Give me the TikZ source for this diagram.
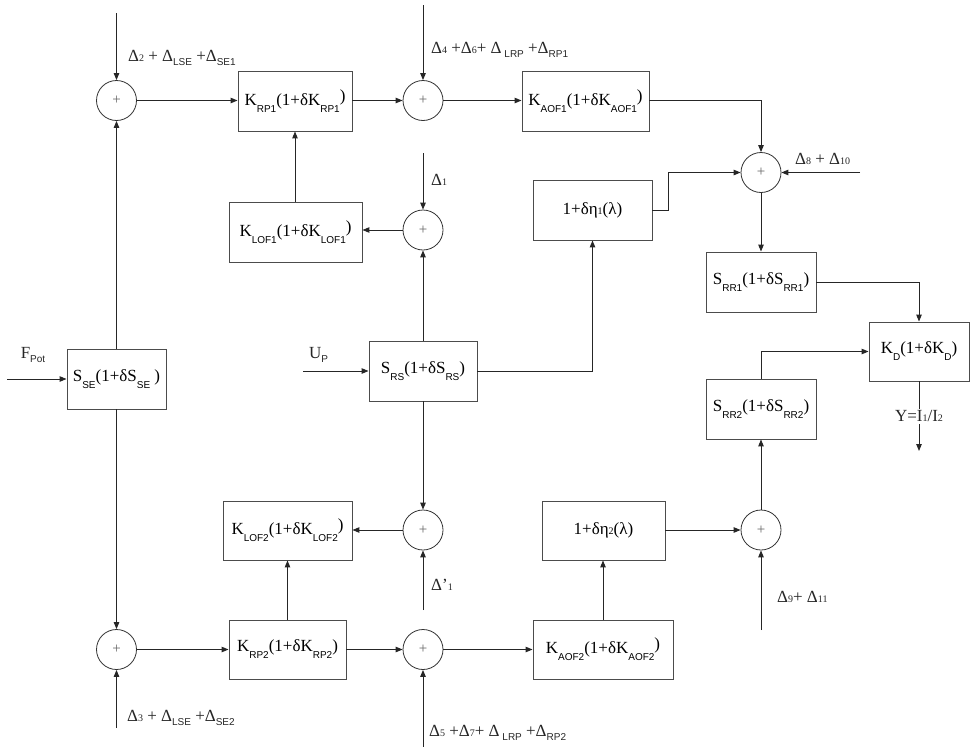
\documentclass[tikz,border=0pt]{standalone}
\usepackage{fontspec}
\setmainfont{Liberation Serif}
\setsansfont{Liberation Sans}
\usetikzlibrary{arrows.meta}
\newcommand{\sbx}[1]{\raisebox{-7pt}{\fontsize{10}{10}\sffamily #1}}
\newcommand{\sbl}[1]{\raisebox{-4pt}{\fontsize{10}{10}\sffamily #1}}
\newcommand{\dg}[1]{{\fontsize{10}{10}\selectfont #1}}
\newcommand{\rp}{\raisebox{4pt}{)}}
\begin{document}
\begin{tikzpicture}[x=1pt,y=-1pt,
  blk/.style={draw=black!70, line width=0.9pt, inner sep=0pt, font=\fontsize{17}{20}\selectfont},
  sumc/.style={circle, draw=black!80, line width=0.8pt, minimum size=40pt, inner sep=0pt, font=\fontsize{15}{15}\selectfont, text=black!60},
  conn/.style={draw=black!85, line width=1pt, -{Triangle[length=7pt,width=5.5pt]}},
  lbl/.style={inner sep=0pt, font=\fontsize{17}{20}\selectfont, text=black!85}]
\useasboundingbox (0,0) rectangle (970,747);
% summing junctions
\node[sumc] (S1) at (116.5,100.5) {+};
\node[sumc] (S2) at (423,100.5) {+};
\node[sumc] (S3) at (423,230) {+};
\node[sumc] (S4) at (761,172.5) {+};
\node[sumc] (S5) at (423,530) {+};
\node[sumc] (S6) at (116.5,649.5) {+};
\node[sumc] (S7) at (423,649.5) {+};
\node[sumc] (S8) at (761,530) {+};
% blocks
\node[blk, minimum width=114pt, minimum height=60pt] (KRP1) at (295,101) {K\sbx{RP1}(1+δK\sbx{RP1}\rp};
\node[blk, minimum width=133pt, minimum height=60pt] (KLOF1) at (295.5,232) {K\sbx{LOF1}(1+δK\sbx{LOF1}\rp};
\node[blk, minimum width=127pt, minimum height=60pt] (KAOF1) at (585.5,101) {K\sbx{AOF1}(1+δK\sbx{AOF1}\rp};
\node[blk, minimum width=119pt, minimum height=60pt] (ETA1) at (592.5,210) {1+δη\dg{1}(λ)};
\node[blk, minimum width=110pt, minimum height=60pt] (SRR1) at (761,282) {S\sbx{RR1}(1+δS\sbx{RR1})};
\node[blk, minimum width=100pt, minimum height=59pt] (KD) at (919,351.5) {K\sbx{D}(1+δK\sbx{D})};
\node[blk, minimum width=110pt, minimum height=60pt] (SRR2) at (761,409) {S\sbx{RR2}(1+δS\sbx{RR2})};
\node[blk, minimum width=99pt, minimum height=60pt] (SSE) at (116.5,379) {S\sbx{SE}(1+δS\sbx{SE} )};
\node[blk, minimum width=108pt, minimum height=60pt] (SRS) at (423,371) {S\sbx{RS}(1+δS\sbx{RS})};
\node[blk, minimum width=129pt, minimum height=59pt] (KLOF2) at (287.5,530.5) {K\sbx{LOF2}(1+δK\sbx{LOF2}\rp};
\node[blk, minimum width=117pt, minimum height=59pt] (KRP2) at (287.5,649.5) {K\sbx{RP2}(1+δK\sbx{RP2})};
\node[blk, minimum width=123pt, minimum height=59pt] (ETA2) at (603.5,530.5) {1+δη\dg{2}(λ)};
\node[blk, minimum width=140pt, minimum height=59pt] (KAOF2) at (603,649.5) {K\sbx{AOF2}(1+δK\sbx{AOF2}\rp};
% free ends
\coordinate (in1) at (116.5,13);
\coordinate (inF) at (7,379);
\coordinate (in2) at (423,5);
\coordinate (in3) at (423,153);
\coordinate (in4) at (860,172.5);
\coordinate (in5) at (761,630);
\coordinate (in6) at (423,747);
\coordinate (in7) at (423,610);
\coordinate (in8) at (116.5,728);
\coordinate (inU) at (303,371);
\coordinate (out) at (919,451);
% connectors
\draw[conn] (in1) -- (S1.north);
\draw[conn] (S1.east) -- (KRP1.west |- S1.east);
\draw[conn] (SSE.north) -- (S1.south);
\draw[conn] (SSE.south) -- (S6.north);
\draw[conn] (inF) -- (SSE.west);
\draw[conn] (KLOF1.north -| KRP1.south) -- (KRP1.south);
\draw[conn] (KRP1.east |- S2.west) -- (S2.west);
\draw[conn] (in2) -- (S2.north);
\draw[conn] (S2.east) -- (KAOF1.west |- S2.east);
\draw[conn] (KAOF1.east |- S2.east) -| (S4.north);
\draw[conn] (in3) -- (S3.north);
\draw[conn] (S3.west) -- (KLOF1.east |- S3.west);
\draw[conn] (SRS.north) -- (S3.south);
\draw[conn] (SRS.east) -| (ETA1.south);
\draw[conn] (ETA1.east) -- ++(16,0) |- (S4.west);
\draw[conn] (in4) -- (S4.east);
\draw[conn] (S4.south) -- (SRR1.north);
\draw[conn] (SRR1.east) -| (KD.north);
\draw[conn] (SRR2.north) |- (KD.west);
\draw[conn] (KD.south) -- node[fill=white, lbl, inner ysep=2pt] (Y) {Y=I\dg{1}/I\dg{2}} (out);
\draw[conn] (S8.north) -- (SRR2.south);
\draw[conn] (ETA2.east |- S8.west) -- (S8.west);
\draw[conn] (in5) -- (S8.south);
\draw[conn] (KAOF2.north) -- (ETA2.south -| KAOF2.north);
\draw[conn] (S7.east) -- (KAOF2.west |- S7.east);
\draw[conn] (KRP2.east) -- (S7.west);
\draw[conn] (in6) -- (S7.south);
\draw[conn] (SRS.south) -- (S5.north);
\draw[conn] (in7) -- (S5.south);
\draw[conn] (S5.west) -- (KLOF2.east |- S5.west);
\draw[conn] (KRP2.north) -- (KLOF2.south);
\draw[conn] (S6.east) -- (KRP2.west);
\draw[conn] (in8) -- (S6.south);
\draw[conn] (inU) -- (SRS.west);
% labels
\node[lbl, anchor=west] (L1) at (128,58) {Δ\dg{2} + Δ\sbl{LSE} +Δ\sbl{SE1}};
\node[lbl, anchor=west] (L2) at (431,50) {Δ\dg{4} +Δ\dg{6}+ Δ\sbl{ LRP} +Δ\sbl{RP1}};
\node[lbl, anchor=west] (L3) at (431,180) {Δ\dg{1}};
\node[lbl, anchor=west] (L4) at (795,159) {Δ\dg{8} + Δ\dg{10}};
\node[lbl] (L5) at (33,355) {F\sbl{Pot}};
\node[lbl, anchor=west] (L6) at (309,355) {U\sbl{P}};
\node[lbl, anchor=west] (L8) at (431,585) {Δ'\dg{1}};
\node[lbl, anchor=west] (L9) at (777,597) {Δ\dg{9}+ Δ\dg{11}};
\node[lbl, anchor=west] (L10) at (127,718) {Δ\dg{3} + Δ\sbl{LSE} +Δ\sbl{SE2}};
\node[lbl, anchor=west] (L11) at (429,733) {Δ\dg{5} +Δ\dg{7}+ Δ\sbl{ LRP} +Δ\sbl{RP2}};
\end{tikzpicture}
\end{document}
